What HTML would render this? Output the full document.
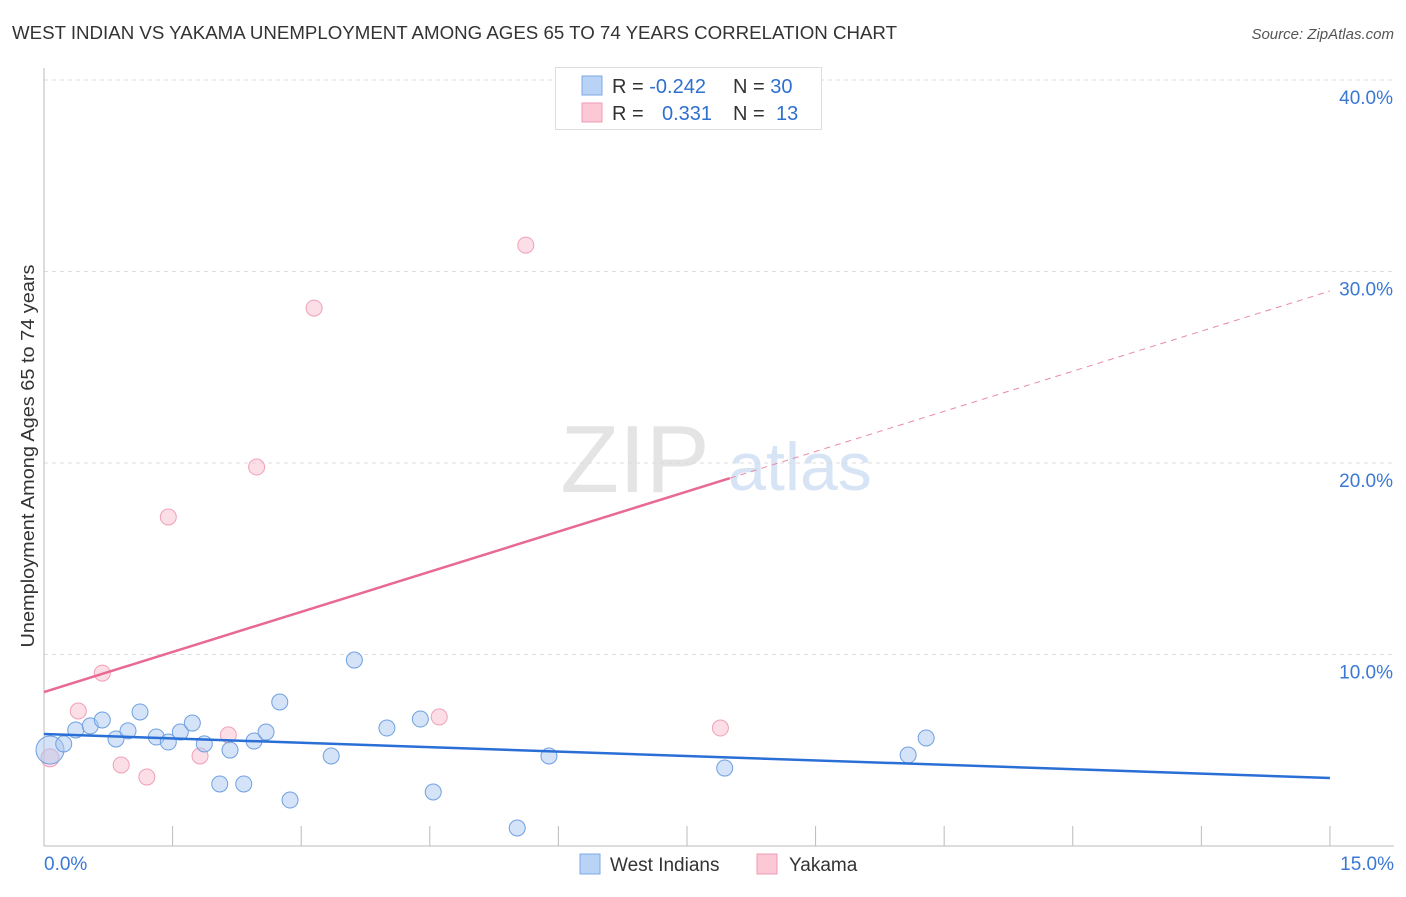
<!DOCTYPE html>
<html><head><meta charset="utf-8"><style>
body{margin:0;background:#fff;font-family:"Liberation Sans",sans-serif;}
svg text{font-family:"Liberation Sans",sans-serif;}
</style></head><body>
<svg id="chart" width="1406" height="892" xmlns="http://www.w3.org/2000/svg">
<text x="12" y="39" font-size="18" fill="#333" textLength="885" lengthAdjust="spacingAndGlyphs">WEST INDIAN VS YAKAMA UNEMPLOYMENT AMONG AGES 65 TO 74 YEARS CORRELATION CHART</text>
<text x="1394" y="39" font-size="15" fill="#555" font-style="italic" text-anchor="end">Source: ZipAtlas.com</text>
<text x="635" y="492" font-size="96" fill="#e4e4e4" font-family="Liberation Serif" text-anchor="middle">ZIP</text>
<text x="800" y="490" font-size="68" fill="#d6e4f5" text-anchor="middle">atlas</text>
<text transform="translate(34,456) rotate(-90)" font-size="18" fill="#333" text-anchor="middle" textLength="383" lengthAdjust="spacingAndGlyphs">Unemployment Among Ages 65 to 74 years</text>
<g id="grid"></g><g id="marks"></g>
<g>
<rect x="555.5" y="67.5" width="266" height="62" fill="#fff" stroke="#ddd"/>
<rect x="582" y="76" width="20" height="19" fill="#b8d3f5" stroke="#7eaae6"/>
<rect x="582" y="103" width="20" height="19" fill="#fcc8d6" stroke="#f29ab2"/>
<text x="612" y="93" font-size="20" fill="#333">R = <tspan fill="#2f6fd0">-0.242</tspan></text>
<text x="733" y="93" font-size="20" fill="#333">N = <tspan fill="#2f6fd0">30</tspan></text>
<text x="612" y="120" font-size="20" fill="#333">R = <tspan fill="#2f6fd0" x="662">0.331</tspan></text>
<text x="733" y="120" font-size="20" fill="#333">N = <tspan fill="#2f6fd0" x="776">13</tspan></text>
</g>
<g>
<rect x="580" y="854" width="20" height="20" fill="#b8d3f5" stroke="#7eaae6"/>
<text x="610" y="871" font-size="19" fill="#333">West Indians</text>
<rect x="757" y="854" width="20" height="20" fill="#fcc8d6" stroke="#f29ab2"/>
<text x="789" y="871" font-size="19" fill="#333">Yakama</text>
</g>
</svg>
<script>
const blueX=[0.07,0.23,0.37,0.54,0.68,0.84,0.98,1.12,1.31,1.45,1.59,1.73,1.87,2.05,2.17,2.33,2.45,2.59,2.75,2.87,3.35,3.62,4.0,4.39,4.54,5.52,5.89,7.94,10.08,10.29];
const blueY=[5.01,5.33,6.06,6.27,6.58,5.59,6.01,7.0,5.69,5.43,5.95,6.42,5.33,3.24,5.01,3.24,5.48,5.95,7.52,2.4,4.7,9.71,6.16,6.63,2.82,0.94,4.7,4.07,4.75,5.64];
const pinkX=[0.07,0.4,0.68,0.9,1.2,1.45,1.82,2.15,2.48,3.15,4.61,5.62,7.89];
const pinkY=[4.6,7.05,9.03,4.23,3.6,17.18,4.7,5.8,19.79,28.09,6.74,31.38,6.16];
const blueLine=[5.85,3.55];
const pinkLine=[8.04,28.98];
const pinkSolidEnd=8.0;
const yTicks=[10,20,30,40];
const xTickLabels=["0.0%","15.0%"];
const X=v=>44+v*85.73, Y=v=>846-v*19.15;
const NS="http://www.w3.org/2000/svg";
function mk(tag,attrs,parent){const e=document.createElementNS(NS,tag);for(const k in attrs)e.setAttribute(k,attrs[k]);parent.appendChild(e);return e;}
const grid=document.getElementById('grid'),marks=document.getElementById('marks');
yTicks.forEach(t=>{
 const l=mk('line',{x1:44,x2:1394,y1:Y(t),y2:Y(t),stroke:'#ddd','stroke-dasharray':'4,4'},grid);
 
 
 const tx=mk('text',{x:1393,y:Y(t)+24,'font-size':19,fill:'#3a78d4','text-anchor':'end'},grid);
 tx.textContent=t.toFixed(1)+'%';
 
 
});
const ax=mk('line',{x1:44,x2:44,y1:68,y2:846,stroke:'#bbb'},grid);


const bx=mk('line',{x1:44,x2:1394,y1:846,y2:846,stroke:'#bbb'},grid);


for(let i=0;i<=10;i++){const v=i*1.5;const t=mk('line',{x1:X(v),x2:X(v),y1:826,y2:846,stroke:'#bbb'},grid);
 
 }
[[0,xTickLabels[0],'start',44],[15,xTickLabels[1],'end',1394]].forEach(a=>{const t=mk('text',{x:a[3],y:870,'font-size':19,fill:'#3a78d4','text-anchor':a[2]},grid);t.textContent=a[1];
 
 });
pinkX.forEach((x,i)=>{const c=mk('circle',{cx:X(x),cy:Y(pinkY[i]),r:i==0?9:8,fill:'rgba(250,190,208,0.5)',stroke:'#f0a0b8','stroke-width':1},marks);
 
 });
blueX.forEach((x,i)=>{const c=mk('circle',{cx:X(x),cy:Y(blueY[i]),r:i==0?14:8,fill:'rgba(170,200,240,0.5)',stroke:'#6fa0e0','stroke-width':1},marks);
 
 });
const py=x=>pinkLine[0]+(pinkLine[1]-pinkLine[0])*x/15;
const p1=mk('line',{x1:X(0),y1:Y(pinkLine[0]),x2:X(pinkSolidEnd),y2:Y(py(pinkSolidEnd)),stroke:'#e86a94','stroke-width':2.5},marks);


const p2=mk('line',{x1:X(pinkSolidEnd),y1:Y(py(pinkSolidEnd)),x2:X(15),y2:Y(pinkLine[1]),stroke:'#e88aa8','stroke-width':1,'stroke-dasharray':'6,5'},marks);


const b=mk('line',{x1:X(0),y1:Y(blueLine[0]),x2:X(15),y2:Y(blueLine[1]),stroke:'#2a6fd6','stroke-width':2.5},marks);


</script>
</body></html>
